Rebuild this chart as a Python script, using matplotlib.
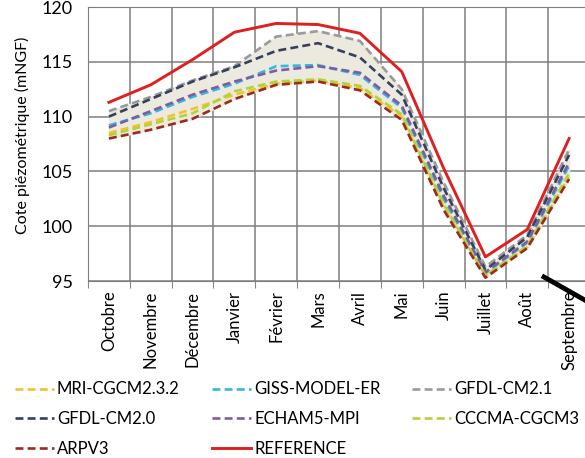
import matplotlib.pyplot as plt
from matplotlib.lines import Line2D
import numpy as np

plt.rcParams['font.family'] = ['Lato', 'DejaVu Sans']

# mois (octobre -> septembre)
mois = ['Octobre', 'Novembre', 'Décembre', 'Janvier', 'Février', 'Mars',
        'Avril', 'Mai', 'Juin', 'Juillet', 'Août', 'Septembre']

mri = [108.5, 109.5, 110.7, 112.0, 113.0, 113.3, 112.6, 110.0, 101.8, 95.4, 98.1, 104.5]
giss = [109.2, 110.3, 111.8, 113.0, 114.6, 114.7, 113.8, 110.8, 102.5, 95.7, 98.5, 105.5]
gfdl21 = [110.5, 111.8, 113.3, 114.6, 117.3, 117.8, 116.9, 112.5, 104.0, 96.3, 99.2, 107.0]
gfdl20 = [110.0, 111.6, 113.2, 114.5, 116.0, 116.7, 115.4, 112.0, 103.5, 96.0, 99.0, 106.5]
echam = [109.0, 110.5, 112.0, 113.2, 114.2, 114.6, 114.0, 111.0, 102.8, 95.8, 98.6, 105.8]
cccma = [108.3, 109.3, 110.3, 112.3, 113.2, 113.4, 112.8, 110.2, 102.0, 95.5, 98.2, 104.8]
arpv3 = [108.0, 108.8, 109.8, 111.6, 112.9, 113.2, 112.4, 109.7, 101.5, 95.3, 98.0, 104.3]
reference = [111.3, 112.9, 115.2, 117.7, 118.5, 118.4, 117.6, 114.1, 105.3, 97.2, 99.7, 108.0]

modeles = {
    'MRI-CGCM2.3.2': (mri, '#EFC42A'),
    'GISS-MODEL-ER': (giss, '#35B8DC'),
    'GFDL-CM2.1': (gfdl21, '#9A9A9A'),
    'GFDL-CM2.0': (gfdl20, '#33415E'),
    'ECHAM5-MPI': (echam, '#7D5CA3'),
    'CCCMA-CGCM3': (cccma, '#B4D235'),
    'ARPV3': (arpv3, '#9C2B1F'),
}

x = np.arange(len(mois))

fig = plt.figure(figsize=(5.85, 4.58), dpi=100)
ax = fig.add_axes([88 / 585, 1 - 281 / 458, 502 / 585, 274 / 458])

# enveloppe des modeles
tous = np.array([v[0] for v in modeles.values()])
ax.fill_between(x, tous.min(axis=0), tous.max(axis=0), color='#ECE9DF', zorder=1)

handles = {}
for nom, (vals, col) in modeles.items():
    h, = ax.plot(x, vals, color=col, lw=1.9, ls=(0, (3, 1.6)), zorder=3)
    handles[nom] = h
h, = ax.plot(x, reference, color='#DE2020', lw=2.1, zorder=4)
handles['REFERENCE'] = h

ax.set_xlim(-0.5, 11.5)
ax.set_ylim(95, 120)
ax.set_yticks([95, 100, 105, 110, 115, 120])
ax.tick_params(axis='y', length=0, labelsize=13, pad=11)

ax.set_xticks(np.arange(-0.5, 12, 1))
ax.set_xticklabels([])
ax.tick_params(axis='x', which='major', length=5, color='#888888')
ax.set_xticks(x, minor=True)
ax.set_xticklabels(mois, minor=True, rotation=90, fontsize=12)
ax.tick_params(axis='x', which='minor', length=0, pad=7)

ax.grid(True, color='#7E7E7E', lw=1.1)
ax.set_axisbelow(True)
for s in ax.spines.values():
    s.set_color('#7E7E7E')
ax.set_ylabel('Cote piézométrique (mNGF)', fontsize=11.5)
ax.yaxis.set_label_coords(-0.115, 0.533)

# legende en trois colonnes
colonnes = [['MRI-CGCM2.3.2', 'GFDL-CM2.0', 'ARPV3'],
            ['GISS-MODEL-ER', 'ECHAM5-MPI', 'REFERENCE'],
            ['GFDL-CM2.1', 'CCCMA-CGCM3']]
xs = [12 / 585, 209 / 585, 409 / 585]
for noms, xc in zip(colonnes, xs):
    fig.legend([handles[n] for n in noms], noms, loc='upper left',
               bbox_to_anchor=(xc, 1 - 378 / 458), frameon=False,
               fontsize=12, handlelength=2.3, handletextpad=0.2,
               labelspacing=0.82, borderaxespad=0, borderpad=0.2)

# trait noir en bas a droite
fig.add_artist(Line2D([544 / 585, 590 / 585], [1 - 277 / 458, 1 - 303 / 458],
                      color='black', lw=3.5, transform=fig.transFigure))

plt.savefig('out.png', dpi=100)
